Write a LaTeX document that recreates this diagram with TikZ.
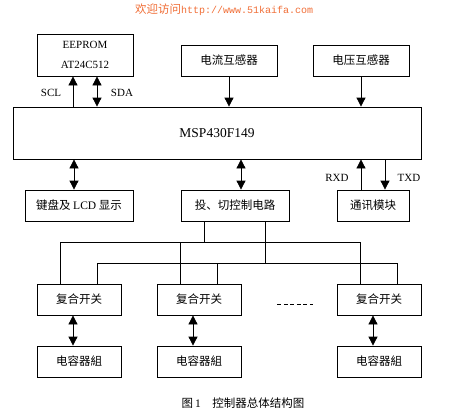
\documentclass[tikz,border=0pt]{standalone}
\usepackage{fontspec}
\setmainfont{Liberation Serif}
\newfontfamily\cjk{Noto Sans CJK SC}
\newfontfamily\urlfont{Liberation Mono}
\usetikzlibrary{arrows.meta}
\definecolor{webred}{RGB}{240,110,55}
\tikzset{
  blk/.style={draw,line width=0.8pt,inner sep=0pt,minimum height=31pt,
    font=\cjk\fontsize{11.5}{14}\selectfont},
  wire/.style={line width=0.8pt},
  sig/.style={wire,-{Triangle[length=9pt,width=9pt]}},
  bidir/.style={wire,{Triangle[length=9pt,width=9pt]}-{Triangle[length=9pt,width=9pt]}},
  lbl/.style={inner sep=0pt,font=\fontsize{11}{13}\selectfont},
}
\begin{document}
\begin{tikzpicture}[x=1pt,y=-1pt]
  \useasboundingbox (0,0) rectangle (452,413);
  % site line on top
  \node[anchor=west,inner sep=0pt,text=webred] (web) at (135,10)
    {{\cjk\fontsize{11.5}{13}\selectfont 欢迎访问}{\urlfont\fontsize{10}{13}\selectfont http://www.51kaifa.com}};

  % blocks above the MCU
  \node[blk,minimum width=96pt,minimum height=42pt,align=center,
        font=\fontsize{11}{20}\selectfont] (eeprom) at (85,55) {EEPROM\\AT24C512};
  \node[blk,minimum width=96pt] (ct) at (229,60.5) {电流互感器};
  \node[blk,minimum width=96pt] (vt) at (361,60.5) {电压互感器};
  \node[blk,minimum width=408pt,minimum height=52pt,
        font=\fontsize{13.5}{15}\selectfont] (mcu) at (217,133) {MSP430F149};

  % blocks below it
  \node[blk,minimum width=108pt] (kbd) at (79,205.5) {键盘及 {\rmfamily LCD} 显示};
  \node[blk,minimum width=108pt] (ctrl) at (235,205.5) {投、切控制电路};
  \node[blk,minimum width=72pt] (comm) at (373,205.5) {通讯模块};

  % switch and capacitor rows
  \foreach \n/\x in {1/79,2/199,3/379}{
    \node[blk,minimum width=84pt] (sw\n) at (\x,299.5) {复合开关};
    \node[blk,minimum width=84pt] (cap\n) at (\x,361.5) {电容器組};
    \coordinate (p\n) at ([xshift=-6pt]sw\n.south);
    \draw[bidir] (p\n) -- (p\n |- cap\n.north);
  }

  % MCU links
  \coordinate (scl) at ([xshift=-12pt]eeprom.south);
  \coordinate (sda) at ([xshift=12pt]eeprom.south);
  \draw[sig] (scl |- mcu.north) -- (scl);
  \draw[bidir] (sda |- mcu.north) -- (sda);
  \draw[sig] (ct.south) -- (ct.south |- mcu.north);
  \draw[sig] (vt.south) -- (vt.south |- mcu.north);
  \coordinate (kb) at ([xshift=-5pt]kbd.north);
  \coordinate (cc) at ([xshift=6pt]ctrl.north);
  \draw[bidir] (kb |- mcu.south) -- (kb);
  \draw[bidir] (cc |- mcu.south) -- (cc);
  \coordinate (rxd) at ([xshift=-12pt]comm.north);
  \coordinate (txd) at ([xshift=12pt]comm.north);
  \draw[sig] (rxd) -- (rxd |- mcu.south);
  \draw[sig] (txd |- mcu.south) -- (txd);

  \node[lbl] (scllbl) at (51,93) {SCL};
  \node[lbl] (sdalbl) at (122,93) {SDA};
  \node[lbl] (rxdlbl) at (337,178) {RXD};
  \node[lbl] (txdlbl) at (409,178) {TXD};

  % the two buses from the switching circuit
  \coordinate (busa) at (0,242);
  \coordinate (busb) at (0,263);
  \coordinate (ca) at ([xshift=24pt]ctrl.south west);
  \coordinate (cb) at ([xshift=-24pt]ctrl.south east);
  \draw[wire] (ca) -- (ca |- busa);
  \draw[wire] (cb) -- (cb |- busb);
  \foreach \n in {1,2,3}{
    \coordinate (a\n) at ([xshift=24pt]sw\n.north west);
    \coordinate (b\n) at ([xshift=-24pt]sw\n.north east);
    \draw[wire] (a\n) -- (a\n |- busa);
    \draw[wire] (b\n) -- (b\n |- busb);
  }
  \draw[wire] (a1 |- busa) -- (a3 |- busa);
  \draw[wire] (b1 |- busb) -- (b3 |- busb);
  \draw[wire,dash pattern=on 4pt off 2.5pt,shorten <=36pt,shorten >=24pt]
    ([yshift=-4.5pt]sw2.east) -- ([yshift=-4.5pt]sw3.west);

  \node[inner sep=0pt,font=\fontsize{11.5}{13}\selectfont] (title) at (243,403)
    {{\cjk 图}\,1\quad{\cjk 控制器总体结构图}};
\end{tikzpicture}
\end{document}
